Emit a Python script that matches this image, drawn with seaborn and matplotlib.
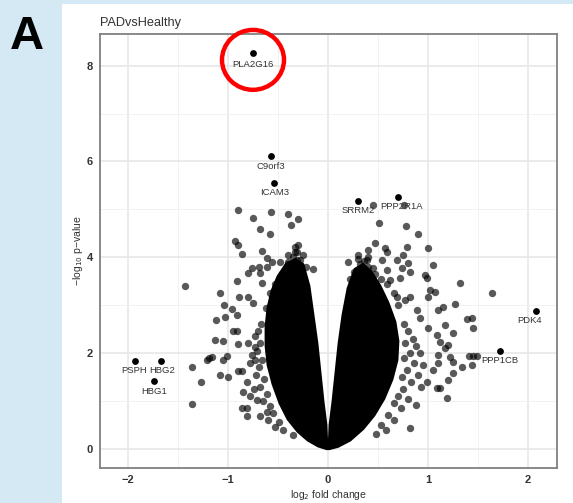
import numpy as np
import pandas as pd
import matplotlib
matplotlib.use("Agg")
import matplotlib.pyplot as plt
import seaborn as sns
from matplotlib.patches import Ellipse, Rectangle, Polygon

sns.set_theme(style="white")
plt.rcParams['font.family'] = ['Liberation Sans', 'DejaVu Sans']

# ---------------- data ----------------
title = "PADvsHealthy"
x_label = "log$_2$ fold change"
y_label = "\u2212log$_{10}$ p\u2212value"
x_ticks = [-2, -1, 0, 1, 2]
y_ticks = [0, 2, 4, 6, 8]

# labelled genes
gene_names = ["PLA2G16", "C9orf3", "ICAM3", "SRRM2", "PPP2R1A", "PDK4", "PPP1CB", "PSPH", "HBG2", "HBG1"]
gene_lfc   = [-0.75, -0.57, -0.54, 0.30, 0.70, 2.08, 1.72, -1.93, -1.67, -1.74]
gene_logp  = [8.27, 6.12, 5.55, 5.18, 5.26, 2.88, 2.05, 1.84, 1.84, 1.42]
# label offsets (pixels) relative to the point
gene_dx = [0, 0, 1, 0, 4, -6, 0, -1, 1, 0]
gene_dy = [-12, -11, -10, -10, -10, -10, -10, -10, -10, -11]

# scattered (non-labelled) genes
other_lfc = [
    -0.90, -0.75, -0.57, -0.40, -0.30, -0.37, -0.68, -0.58, -0.93, -0.90, -0.86, -0.66, -0.33, -0.30,
    -0.31, -0.40, -0.61, -0.56, -0.48, -0.40, -0.31, -0.76, -0.69, -0.61, -0.80, -0.68, -0.91, -0.66,
    -1.43, -1.08, -0.89, -1.04, -0.96, -0.91, -1.03, -1.12, -0.80, -0.75,
    0.51, 0.78, 0.90, 0.47, 0.40, 0.57, 0.59, 0.79, 1.00, 0.75, 0.30, 0.39, 0.54, 0.69, 0.80, 1.05,
    0.37, 0.45, 0.59, 0.74, 0.82, 0.97, 0.99, 0.72, 0.62, 1.32, 1.02, 1.07, 1.00, 1.27, 1.15, 1.10,
    1.39, 1.44, 1.17, 1.00, 1.45, 0.89, 0.92, 0.77, 0.82, 0.69, 1.64, 0.45, 0.76,
    1.41, 1.45, 1.49, 1.34, 1.19, 1.25, 1.17, 1.22, 1.12, 1.10, 0.82, 1.44, 1.25, 1.20, 1.09, 1.12,
    1.25, 1.09, 1.20, 1.10, 1.05, 0.99, 0.88,
    -1.36, -1.27, -1.36, -1.13, -1.05, -0.95, -0.91, -1.19, -1.16, -1.01, -1.05, -1.08, -1.00, -0.90,
    -0.90, -0.86, -0.81, -0.85, -0.78, -0.71, -0.86, -0.81, -0.81, -0.68, -0.61, -0.78, -0.73, -0.35,
    -0.80, -0.73, -1.21,
    # right-arm halo
    0.76, 0.80, 0.85, 0.77, 0.88, 0.82, 0.92, 0.76, 0.86, 0.95, 0.79, 0.90, 0.74, 0.83, 0.93, 0.75,
    0.70, 0.80, 0.66, 0.73, 0.60, 0.66, 0.53, 0.58, 0.48, 0.70, 0.66, 0.59, 0.53, 0.47, 0.40, 0.32,
    0.26, 0.36, 0.22, 0.29, 0.40, 0.30, 0.20,
    # left-arm halo
    -0.67, -0.70, -0.73, -0.68, -0.71, -0.76, -0.66, -0.69, -0.72, -0.64, -0.68, -0.74, -0.61, -0.65,
    -0.58, -0.55, -0.60, -0.49, -0.45, -0.53, -0.62, -0.58, -0.53, -0.46, -0.40, -0.28, -0.22, -0.35,
    -0.25, -0.33, -0.15,
]
other_logp = [
    4.99, 4.82, 4.95, 4.91, 4.80, 4.68, 4.59, 4.49, 4.34, 4.26, 4.07, 4.13, 4.22, 4.26,
    4.11, 4.05, 3.99, 3.90, 3.90, 3.90, 3.95, 3.78, 3.80, 3.80, 3.67, 3.67, 3.51, 3.47,
    3.40, 3.26, 3.17, 3.01, 2.92, 2.80, 2.76, 2.69, 3.17, 3.05,
    4.72, 4.66, 4.49, 4.30, 4.15, 4.20, 4.11, 4.22, 4.20, 4.05, 3.97, 3.95, 3.95, 3.95, 3.88, 3.84,
    3.70, 3.78, 3.74, 3.78, 3.70, 3.63, 3.57, 3.57, 3.53, 3.47, 3.32, 3.28, 3.17, 3.03, 2.96, 2.90,
    2.71, 2.73, 2.59, 2.53, 2.53, 2.90, 2.73, 3.11, 3.17, 3.17, 3.26, 5.09, 5.09,
    1.94, 1.94, 1.94, 1.71, 1.06, 1.59, 2.11, 1.92, 2.23, 1.96, 0.44, 1.75, 1.82, 1.44, 1.27, 1.27,
    2.42, 2.38, 2.17, 1.80, 1.65, 1.40, 0.92,
    1.71, 1.40, 0.94, 2.28, 2.25, 2.46, 2.46, 1.90, 1.92, 1.94, 1.86, 1.54, 1.50, 2.19,
    1.63, 1.63, 1.40, 1.19, 1.11, 1.02, 0.86, 0.86, 0.69, 0.69, 0.77, 1.80, 1.86, 0.29,
    2.21, 2.13, 1.86,
    2.60, 2.45, 2.30, 2.20, 2.15, 2.00, 2.00, 1.90, 1.80, 1.75, 1.65, 1.55, 1.50, 1.40, 1.30, 1.25,
    1.10, 1.05, 0.95, 0.85, 0.70, 0.60, 0.50, 0.40, 0.30, 3.00, 3.25, 3.45, 3.55, 3.65, 3.80, 3.85,
    3.70, 3.92, 3.55, 3.60, 4.00, 4.05, 3.90,
    2.60, 2.45, 2.35, 2.20, 2.05, 1.95, 1.85, 1.70, 1.55, 1.45, 1.30, 1.25, 1.15, 1.00,
    0.90, 0.75, 0.60, 0.55, 0.40, 0.45, 2.95, 3.25, 3.45, 3.62, 3.85, 3.95, 3.80, 4.00,
    4.05, 4.10, 3.75,
]

# outlines of the saturated (overplotted) arms of the volcano
left_arm_lfc  = [-0.01, -0.10, -0.20, -0.30, -0.40, -0.48, -0.55, -0.60, -0.62, -0.62, -0.60, -0.56,
                 -0.50, -0.42, -0.33, -0.25, -0.19, -0.15, -0.11, -0.08, -0.05, -0.02]
left_arm_logp = [0.00, 0.06, 0.18, 0.36, 0.62, 0.95, 1.35, 1.75, 2.15, 2.55, 2.95, 3.30,
                 3.60, 3.85, 3.95, 3.85, 3.40, 2.80, 2.20, 1.60, 1.00, 0.50]
right_arm_lfc  = [0.02, 0.05, 0.08, 0.11, 0.15, 0.20, 0.27, 0.35, 0.43, 0.52, 0.60, 0.67, 0.70,
                  0.69, 0.64, 0.56, 0.46, 0.35, 0.22, 0.10, 0.01]
right_arm_logp = [0.50, 1.00, 1.60, 2.20, 2.80, 3.35, 3.75, 3.85, 3.70, 3.40, 3.05, 2.65, 2.25,
                  1.85, 1.45, 1.05, 0.70, 0.42, 0.18, 0.05, 0.00]

# ---------------- figure ----------------
W, H = 573, 503
fig = plt.figure(figsize=(W / 100, H / 100), dpi=100)
fig.patch.set_facecolor("#d5e9f5")
fig.patches.append(Rectangle((62 / W, 0), 1 - 62 / W, 1 - 4 / H, transform=fig.transFigure,
                             facecolor="white", edgecolor="none", zorder=-5))
fig.text(10 / W, 1 - 49 / H, "A", fontsize=34, fontweight="bold", color="black", ha="left", va="baseline")

ax = fig.add_axes([100 / W, 1 - 468 / H, (557 - 100) / W, (468 - 34) / H])
ax.set_zorder(2)
ax.set_facecolor("white")

for xs, ys in [(left_arm_lfc, left_arm_logp), (right_arm_lfc, right_arm_logp)]:
    ax.add_patch(Polygon(np.column_stack([xs, ys]), closed=True, facecolor="black",
                         edgecolor="black", lw=2, joinstyle="round", zorder=2))

others = pd.DataFrame({"lfc": other_lfc, "logp": other_logp})
sns.scatterplot(data=others, x="lfc", y="logp", ax=ax, color="black", alpha=0.65, s=28,
                linewidth=0, zorder=3, legend=False)
genes = pd.DataFrame({"lfc": gene_lfc, "logp": gene_logp, "name": gene_names})
sns.scatterplot(data=genes, x="lfc", y="logp", ax=ax, color="black", s=24, linewidth=0, zorder=4,
                legend=False)
for n, xv, yv, dx, dy in zip(gene_names, gene_lfc, gene_logp, gene_dx, gene_dy):
    ax.annotate(n, (xv, yv), xytext=(dx * 0.72, dy * 0.72), textcoords="offset points",
                ha="center", va="center", fontsize=6.8, color="#333333", zorder=5)

# red circle around the top hit
ax.add_patch(Ellipse((-0.75, 8.12), 0.62, 1.25, fill=False, edgecolor="#ff0000", lw=3.2,
                     clip_on=False, zorder=6))

ax.set_xlim(-2.28, 2.29)
ax.set_ylim(-0.40, 8.66)
ax.set_xticks(x_ticks)
ax.set_yticks(y_ticks)
ax.set_xticklabels([("\u2212" if t < 0 else "") + str(abs(t)) for t in x_ticks])
ax.set_yticklabels([str(t) for t in y_ticks])
ax.set_xticks([-1.5, -0.5, 0.5, 1.5], minor=True)
ax.set_yticks([1, 3, 5, 7], minor=True)
ax.grid(True, which="major", color="#e6e6e6", lw=1.1, zorder=0)
ax.grid(True, which="minor", color="#f2f2f2", lw=0.7, zorder=0)
ax.set_axisbelow(True)
for s in ax.spines.values():
    s.set_color("#808080")
    s.set_linewidth(1.3)
ax.tick_params(which="major", direction="out", length=3, width=1, color="#808080",
               labelsize=8, labelcolor="#333333", pad=2)
ax.tick_params(which="minor", length=0)
for lab in ax.get_xticklabels() + ax.get_yticklabels():
    lab.set_fontweight("bold")
ax.set_xlabel(x_label, fontsize=7.5, color="#333333", labelpad=2)
ax.set_ylabel(y_label, fontsize=7.5, color="#333333", labelpad=1)
ax.set_title(title, loc="left", fontsize=9.2, color="#333333", pad=6)

fig.savefig("out.png", dpi=100, facecolor=fig.get_facecolor())
